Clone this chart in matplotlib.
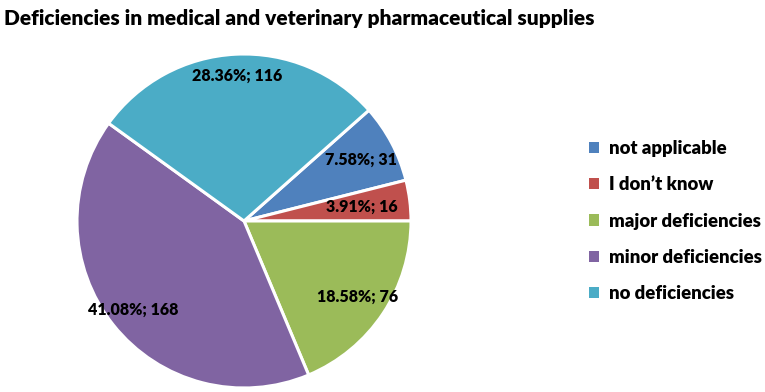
import matplotlib
matplotlib.use("Agg")
import matplotlib.pyplot as plt
import numpy as np
from matplotlib.patches import Patch

categories = ["not applicable", "I don\u2019t know", "major deficiencies", "minor deficiencies", "no deficiencies"]
counts = [31, 16, 76, 168, 116]
percents = ["7.58%", "3.91%", "18.58%", "41.08%", "28.36%"]
colors = ["#4F81BD", "#C0504D", "#9BBB59", "#8064A2", "#4BACC6"]
label_frac = [0.79, 0.71, 0.82, 0.85, 0.87]

plt.rcParams['font.family'] = ['Lato', 'DejaVu Sans']

fig = plt.figure(figsize=(7.65, 3.92), dpi=100)
R = 167
cx, cy = 244, 392 - 221
ax = fig.add_axes([(cx - R) / 765, (cy - R) / 392, 2 * R / 765, 2 * R / 392])

total = sum(counts)
startangle = (counts[0] + counts[1]) / total * 360
wedges, _ = ax.pie(counts, colors=colors, startangle=startangle, counterclock=False,
                   wedgeprops=dict(edgecolor="white", linewidth=2.2), radius=1.0)
ax.set_xlim(-1, 1)
ax.set_ylim(-1, 1)
ax.set_aspect('equal')

for w, p, c, f in zip(wedges, percents, counts, label_frac):
    ang = np.deg2rad((w.theta1 + w.theta2) / 2)
    ax.text(f * np.cos(ang), f * np.sin(ang), f"{p}; {c}", ha="center", va="center",
            fontsize=11.5, fontweight="heavy", color="black")

fig.text(4 / 765, 1 - 18 / 392, "Deficiencies in medical and veterinary pharmaceutical supplies",
         ha="left", va="center", fontsize=15.05, fontweight="heavy")

handles = [Patch(facecolor=c, edgecolor="none") for c in colors]
fig.legend(handles, categories, loc="center left", bbox_to_anchor=(572 / 765, 1 - 221 / 392),
           frameon=False, handlelength=0.55, handleheight=0.55, handletextpad=0.55,
           labelspacing=1.05, prop=dict(size=13.3, weight="heavy"))

fig.savefig("out.png", dpi=100)
